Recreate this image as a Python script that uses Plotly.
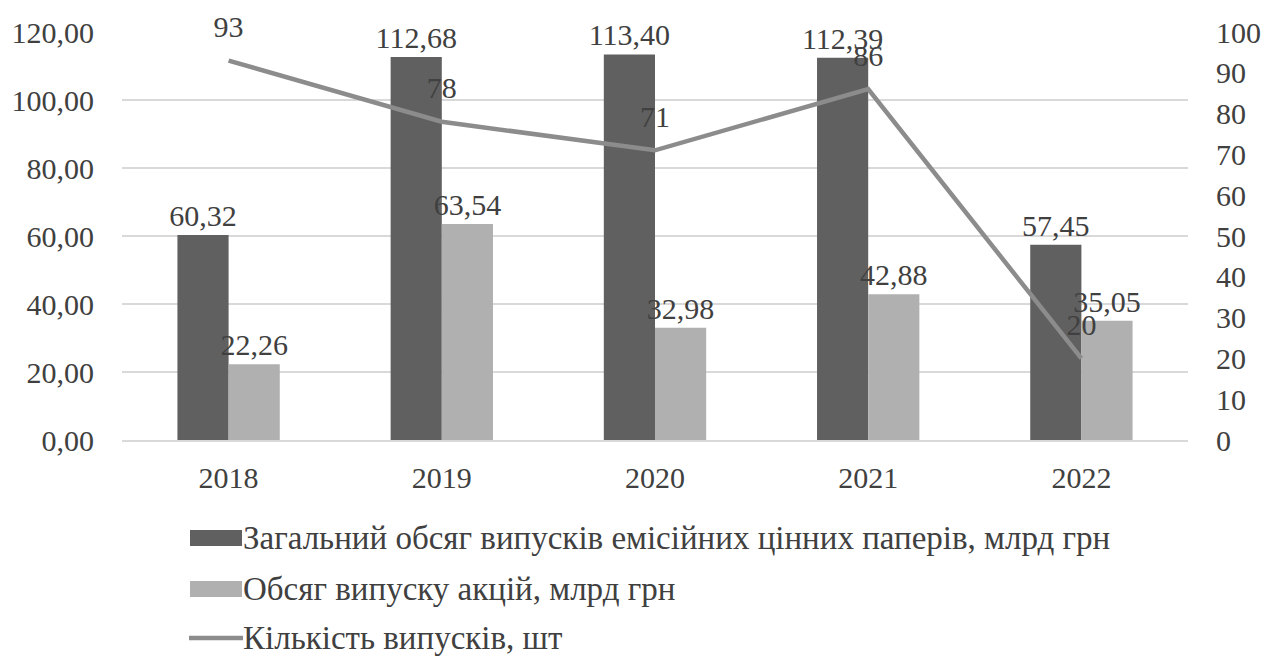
import plotly.graph_objects as go

years = ["2018", "2019", "2020", "2021", "2022"]
total_volume = [60.32, 112.68, 113.40, 112.39, 57.45]
shares_volume = [22.26, 63.54, 32.98, 42.88, 35.05]
issues_count = [93, 78, 71, 86, 20]

name_total = "Загальний обсяг випусків емісійних цінних паперів, млрд грн"
name_shares = "Обсяг випуску акцій, млрд грн"
name_count = "Кількість випусків, шт"

FONT = "Liberation Serif"
TXT = "#404040"
FS = 30
LFS = 33
C_TOTAL = "#606060"
C_SHARES = "#b0b0b0"
C_LINE = "#8c8c8c"

W, H = 1265, 648
ML, MR, MT, MB = 114, 85, 24, 216
PW, PH = W - ML - MR, H - MT - MB

fig = go.Figure()
fig.add_trace(go.Bar(
    x=years, y=total_volume, name=name_total,
    marker=dict(color=C_TOTAL, line=dict(width=0)),
    texttemplate="%{y:.2f}", textposition="outside", constraintext="none",
    textfont=dict(family=FONT, size=FS, color=TXT), cliponaxis=False,
))
fig.add_trace(go.Bar(
    x=years, y=shares_volume, name=name_shares,
    marker=dict(color=C_SHARES, line=dict(width=0)),
    texttemplate="%{y:.2f}", textposition="outside", constraintext="none",
    textfont=dict(family=FONT, size=FS, color=TXT), cliponaxis=False,
))
fig.add_trace(go.Scatter(
    x=years, y=issues_count, name=name_count, yaxis="y2",
    mode="lines+markers+text", line=dict(color=C_LINE, width=4.5),
    marker=dict(size=24, opacity=0, color=C_LINE),
    texttemplate="%{y}", textposition="top center",
    textfont=dict(family=FONT, size=FS, color=TXT), cliponaxis=False,
))

# custom legend (Excel-like wide swatches), placed in paper coordinates
def px(fx):
    return (fx - ML) / PW

def py(fy):
    return (H - MB - fy) / PH

legend_rows = [(name_total, C_TOTAL, "rect", 530), (name_shares, C_SHARES, "rect", 581),
               (name_count, C_LINE, "line", 630)]
for label, color, kind, fy in legend_rows:
    if kind == "rect":
        fig.add_shape(type="rect", xref="paper", yref="paper",
                      x0=px(182), x1=px(234), y0=py(fy - 8), y1=py(fy + 8),
                      fillcolor=color, line=dict(width=0))
    else:
        fig.add_shape(type="line", xref="paper", yref="paper",
                      x0=px(181), x1=px(235), y0=py(fy), y1=py(fy),
                      line=dict(color=color, width=4.5))
    fig.add_annotation(xref="paper", yref="paper", x=px(233), y=py(fy),
                       xanchor="left", yanchor="middle", showarrow=False, text=label,
                       font=dict(family=FONT, size=LFS, color=TXT))

fig.update_layout(
    width=W, height=H,
    margin=dict(l=ML, r=MR, t=MT, b=MB),
    paper_bgcolor="white", plot_bgcolor="white",
    separators=", ",
    font=dict(family=FONT, size=FS, color=TXT),
    barmode="group", bargap=0.52, bargroupgap=0,
    showlegend=False,
    xaxis=dict(
        type="category", showgrid=False, showline=True, linecolor="#d9d9d9", linewidth=1.5,
        ticks="", tickfont=dict(family=FONT, size=FS, color=TXT), ticklabelstandoff=10,
        automargin=False,
    ),
    yaxis=dict(
        range=[0, 120], dtick=20, tickformat=".2f", showgrid=True, gridcolor="#d9d9d9",
        gridwidth=1.5, zeroline=False, showline=False, ticks="",
        tickfont=dict(family=FONT, size=FS, color=TXT), ticklabelstandoff=27,
        automargin=False,
    ),
    yaxis2=dict(
        range=[0, 100], dtick=10, overlaying="y", side="right", showgrid=False,
        zeroline=False, showline=False, ticks="",
        tickfont=dict(family=FONT, size=FS, color=TXT), ticklabelstandoff=27,
        automargin=False,
    ),
)

fig.write_html("out.html")
